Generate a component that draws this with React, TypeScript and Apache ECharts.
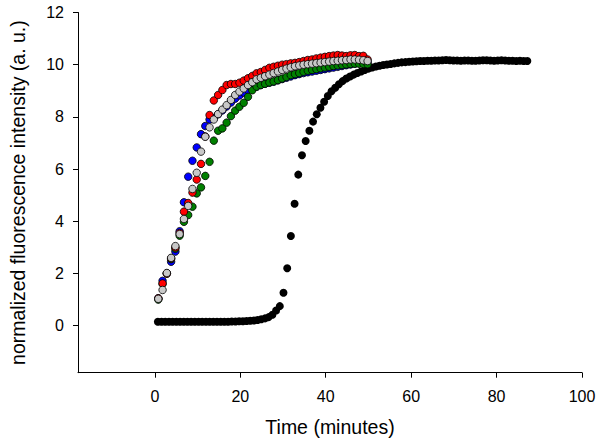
import React, { useEffect, useRef } from "react";
import * as echarts from "echarts";

// Colored series sample times (minutes)
const timeColored = [
  0.8, 1.8, 2.8, 3.8, 4.8, 5.8, 6.8, 7.8, 8.8, 9.8,
  10.8, 11.8, 12.8, 13.8, 14.8, 15.8, 16.8, 17.8, 18.8, 19.8,
  20.8, 21.8, 22.8, 23.8, 24.8, 25.8, 26.8, 27.8, 28.8, 29.8,
  30.8, 31.8, 32.8, 33.8, 34.8, 35.8, 36.8, 37.8, 38.8, 39.8,
  40.8, 41.8, 42.8, 43.8, 44.8, 45.8, 46.8, 47.8, 48.8, 49.8,
];

const redValues = [
  1.05, 1.62, 2.0, 2.58, 3.0, 3.55, 4.37, 4.7, 5.1, 5.6,
  6.2, 7.25, 8.07, 8.63, 8.84, 9.03, 9.22, 9.26, 9.26, 9.31,
  9.39, 9.48, 9.57, 9.67, 9.72, 9.8, 9.88, 9.92, 9.96, 10.0,
  10.02, 10.05, 10.07, 10.1, 10.14, 10.18, 10.2, 10.24, 10.27, 10.3,
  10.33, 10.35, 10.37, 10.35, 10.33, 10.36, 10.37, 10.33, 10.34, 10.2,
];

const blueValues = [
  1.05, 1.72, 2.0, 2.45, 2.84, 3.62, 4.73, 5.71, 6.32, 6.83,
  7.34, 7.65, 7.9, 7.95, 8.1, 8.25, 8.4, 8.55, 8.7, 8.82,
  8.93, 9.03, 9.1, 9.16, 9.22, 9.27, 9.31, 9.35, 9.4, 9.45,
  9.5, 9.55, 9.6, 9.64, 9.68, 9.71, 9.74, 9.77, 9.8, 9.83,
  9.86, 9.89, 9.92, 9.95, 9.98, 10.01, 10.04, 10.06, 10.08, 10.1,
];

const greenValues = [
  1.0, 1.6, 2.0, 2.55, 2.95, 3.45, 3.98, 4.24, 4.56, 5.07,
  5.3, 5.74, 6.28, 7.09, 7.47, 7.56, 7.78, 8.03, 8.24, 8.39,
  8.54, 8.77, 9.02, 9.16, 9.22, 9.27, 9.32, 9.36, 9.41, 9.47,
  9.53, 9.6, 9.64, 9.68, 9.73, 9.77, 9.8, 9.83, 9.86, 9.89,
  9.92, 9.95, 9.97, 9.99, 10.01, 10.03, 10.04, 10.04, 10.03, 10.02,
];

const grayValues = [
  1.03, 1.37, 2.02, 2.6, 3.05, 3.51, 4.09, 4.59, 5.24, 5.86,
  6.67, 7.24, 7.6, 7.9, 8.11, 8.28, 8.45, 8.65, 8.84, 8.97,
  9.09, 9.22, 9.33, 9.44, 9.5, 9.56, 9.62, 9.68, 9.74, 9.8,
  9.85, 9.9, 9.94, 9.97, 10.0, 10.02, 10.04, 10.06, 10.08, 10.1,
  10.12, 10.14, 10.15, 10.17, 10.18, 10.2, 10.2, 10.19, 10.17, 10.14,
];

// Black series sample times (minutes)
const timeBlack = [
  0.7, 1.57, 2.43, 3.3, 4.16, 5.03, 5.89, 6.76, 7.62, 8.49,
  9.35, 10.22, 11.08, 11.95, 12.81, 13.68, 14.54, 15.41, 16.27, 17.14,
  18.0, 18.87, 19.73, 20.6, 21.46, 22.33, 23.19, 24.06, 24.92, 25.79,
  26.65, 27.52, 28.38, 29.25, 30.11, 30.98, 31.84, 32.71, 33.57, 34.44,
  35.3, 36.17, 37.03, 37.9, 38.76, 39.63, 40.49, 41.36, 42.22, 43.09,
  43.95, 44.82, 45.68, 46.55, 47.41, 48.28, 49.14, 50.01, 50.87, 51.74,
  52.6, 53.47, 54.33, 55.2, 56.06, 56.93, 57.79, 58.66, 59.52, 60.39,
  61.25, 62.12, 62.98, 63.85, 64.71, 65.58, 66.44, 67.31, 68.17, 69.04,
  69.9, 70.77, 71.63, 72.5, 73.36, 74.23, 75.09, 75.96, 76.82, 77.69,
  78.55, 79.42, 80.28, 81.15, 82.01, 82.88, 83.74, 84.61, 85.47, 86.34,
  87.2,
];

const blackValues = [
  0.15, 0.15, 0.15, 0.15, 0.15, 0.15, 0.15, 0.15, 0.15, 0.15,
  0.15, 0.15, 0.15, 0.15, 0.15, 0.15, 0.15, 0.15, 0.15, 0.15,
  0.16, 0.16, 0.17, 0.17, 0.18, 0.19, 0.2, 0.22, 0.25, 0.28,
  0.33, 0.42, 0.58, 0.75, 1.26, 2.2, 3.44, 4.67, 5.79, 6.53,
  7.08, 7.47, 7.82, 8.1, 8.35, 8.58, 8.8, 8.98, 9.12, 9.25,
  9.37, 9.47, 9.55, 9.62, 9.68, 9.74, 9.8, 9.85, 9.89, 9.93,
  9.96, 9.99, 10.01, 10.03, 10.05, 10.07, 10.09, 10.1, 10.11, 10.12,
  10.13, 10.14, 10.14, 10.15, 10.15, 10.16, 10.16, 10.17, 10.18, 10.17,
  10.16, 10.16, 10.15, 10.16, 10.16, 10.15, 10.15, 10.16, 10.17, 10.17,
  10.16, 10.15, 10.16, 10.17, 10.16, 10.15, 10.15, 10.14, 10.15, 10.14,
  10.14,
];

const xTickValues = [0, 20, 40, 60, 80, 100];
const yTickValues = [0, 2, 4, 6, 8, 10, 12];

const FONT = "'Liberation Sans', Arial, Helvetica, sans-serif";

function pairs(ts: number[], vs: number[]) {
  return vs.map((v, i) => [ts[i], v]);
}

export default function App() {
  const ref = useRef<HTMLDivElement>(null);
  useEffect(() => {
    document.body.style.margin = "0";
    if (!ref.current) return;
    const chart = echarts.init(ref.current, undefined, { renderer: "svg" });
    const axisCommon = {
      axisLine: { show: true, onZero: false, lineStyle: { color: "#000", width: 1 } },
      axisTick: { show: true, inside: false, length: 5, lineStyle: { color: "#000", width: 1 } },
      splitLine: { show: false },
      nameTextStyle: { fontFamily: FONT, fontSize: 19.5, color: "#000" },
    };
    const colored = (name: string, color: string, vals: number[], z: number) => ({
      name,
      type: "scatter",
      symbol: "circle",
      symbolSize: 7.5,
      z,
      itemStyle: { color, borderColor: "#000", borderWidth: 0.8, opacity: 1 },
      data: pairs(timeColored, vals),
    });
    chart.setOption({
      animation: false,
      backgroundColor: "#fff",
      grid: { left: 77, right: 20, top: 12.5, bottom: 73.3, containLabel: false },
      xAxis: {
        ...axisCommon,
        type: "value",
        min: -18,
        max: 100,
        name: "Time (minutes)",
        nameLocation: "middle",
        nameGap: 44,
        axisTick: { ...axisCommon.axisTick, customValues: xTickValues },
        axisLabel: {
          customValues: xTickValues,
          fontFamily: FONT,
          fontSize: 16,
          color: "#000",
          margin: 16,
        },
      },
      yAxis: {
        ...axisCommon,
        type: "value",
        min: -1.8,
        max: 12,
        name: "normalized fluorescence intensity (a. u.)",
        nameLocation: "middle",
        nameGap: 50,
        axisTick: { ...axisCommon.axisTick, customValues: yTickValues },
        axisLabel: {
          customValues: yTickValues,
          fontFamily: FONT,
          fontSize: 16,
          color: "#000",
          margin: 14,
        },
      },
      series: [
        {
          name: "black",
          type: "scatter",
          symbol: "circle",
          symbolSize: 8,
          z: 1,
          itemStyle: { color: "#000", opacity: 1 },
          data: pairs(timeBlack, blackValues),
        },
        colored("blue", "#0000ff", blueValues, 2),
        colored("green", "#008000", greenValues, 3),
        colored("red", "#ff0000", redValues, 4),
        colored("gray", "#c8c8c8", grayValues, 5),
      ],
    });
    return () => chart.dispose();
  }, []);
  return <div ref={ref} style={{ width: 602, height: 446 }} />;
}
